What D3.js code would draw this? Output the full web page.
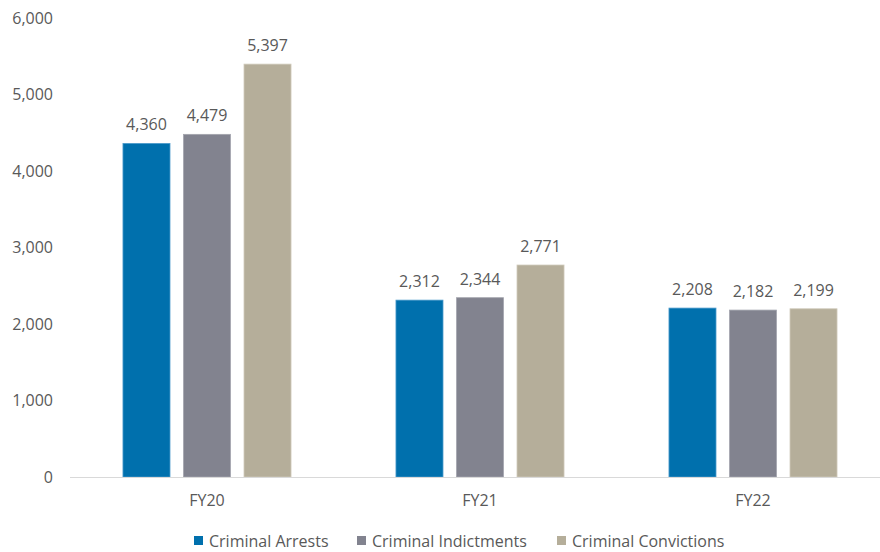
<!DOCTYPE html>
<html>
<head>
<meta charset="utf-8">
<script src="https://cdn.jsdelivr.net/npm/d3@7"></script>
<style>
  body { margin: 0; background: #fff; }
  text { font-family: "Open Sans", "Noto Sans", sans-serif; fill: #595959; }
</style>
</head>
<body>
<div id="chart"></div>
<script>
// chart data
var years = ["FY20", "FY21", "FY22"]
var series = ["Criminal Arrests", "Criminal Indictments", "Criminal Convictions"]
var arrests = [4360, 2312, 2208]
var indictments = [4479, 2344, 2182]
var convictions = [5397, 2771, 2199]
var yTicks = [0, 1000, 2000, 3000, 4000, 5000, 6000]

var colors = ["#0070ad", "#82838f", "#b5ae9a"]
var strokes = ["#4a9acb", "#a4a5ae", "#d0cabb"]

var width = 880
var height = 552

var svg = d3.select("#chart")
    .append("svg")
    .attr("width", width)
    .attr("height", height)

// build rows from the arrays
var values = [arrests, indictments, convictions]
var rows = []
years.forEach(function(y, i) {
    series.forEach(function(s, j) {
        rows.push({ year: y, series: s, idx: j, value: values[j][i] })
    })
})

var x = d3.scaleBand()
    .domain(years)
    .range([70.5, 889.5])

var xInner = d3.scaleBand()
    .domain(series)
    .range([0, x.bandwidth()])
    .paddingInner(0.223)
    .paddingOuter(0.867)

var y = d3.scaleLinear()
    .domain([0, 6000])
    .range([477, 18])

var fmt = d3.format(",")

// y axis labels (no line, no ticks)
svg.append("g")
    .selectAll("text")
    .data(yTicks)
    .enter()
    .append("text")
    .attr("x", 53)
    .attr("y", function(d) { return y(d) })
    .attr("dy", "0.35em")
    .attr("text-anchor", "end")
    .style("font-size", "16px")
    .text(function(d) { return fmt(d) })

// bars
svg.append("g")
    .selectAll("rect")
    .data(rows)
    .enter()
    .append("rect")
    .attr("x", function(d) { return x(d.year) + xInner(d.series) })
    .attr("y", function(d) { return y(d.value) })
    .attr("width", xInner.bandwidth())
    .attr("height", function(d) { return y(0) - y(d.value) })
    .style("fill", function(d) { return colors[d.idx] })
    .style("stroke", function(d) { return strokes[d.idx] })
    .style("stroke-width", 0.8)

// value labels
svg.append("g")
    .selectAll("text")
    .data(rows)
    .enter()
    .append("text")
    .attr("x", function(d) { return x(d.year) + xInner(d.series) + xInner.bandwidth() / 2 })
    .attr("y", function(d) { return y(d.value) - 13 })
    .attr("text-anchor", "middle")
    .style("font-size", "16px")
    .text(function(d) { return fmt(d.value) })

// x axis line
svg.append("line")
    .attr("x1", 70)
    .attr("x2", 880)
    .attr("y1", y(0) + 0.5)
    .attr("y2", y(0) + 0.5)
    .style("stroke", "#d9d9d9")
    .style("stroke-width", 1.2)

// category labels
svg.append("g")
    .selectAll("text")
    .data(years)
    .enter()
    .append("text")
    .attr("x", function(d) { return x(d) + x.bandwidth() / 2 })
    .attr("y", 500)
    .attr("dy", "0.35em")
    .attr("text-anchor", "middle")
    .style("font-size", "16px")
    .text(function(d) { return d })

// legend
var legendX = [194, 357, 557]
var legend = svg.append("g")
    .selectAll("g")
    .data(series)
    .enter()
    .append("g")
    .attr("transform", function(d, i) { return "translate(" + legendX[i] + ",541)" })

legend.append("rect")
    .attr("x", 0)
    .attr("y", -5)
    .attr("width", 9)
    .attr("height", 9)
    .style("fill", function(d, i) { return colors[i] })

legend.append("text")
    .attr("x", 15)
    .attr("y", 0)
    .attr("dy", "0.35em")
    .style("font-size", "16px")
    .text(function(d) { return d })
</script>
</body>
</html>
